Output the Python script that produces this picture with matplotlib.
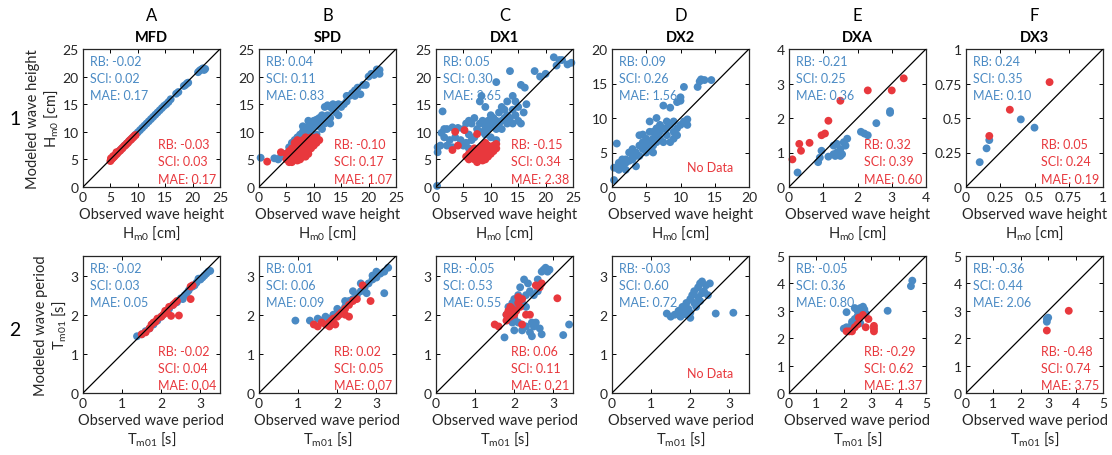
import matplotlib
matplotlib.use("Agg")
import matplotlib.pyplot as plt
import numpy as np

plt.rcParams['font.family'] = ['Lato', 'DejaVu Sans']
plt.rcParams['mathtext.fontset'] = 'custom'
plt.rcParams['mathtext.rm'] = 'Lato'
plt.rcParams['mathtext.it'] = 'Lato:italic'

BLUE = '#4a8ac4'
RED = '#e8383d'

col_letters = ['A', 'B', 'C', 'D', 'E', 'F']
col_titles = ['MFD', 'SPD', 'DX1', 'DX2', 'DXA', 'DX3']

# ---------------- Row 1: Hm0 ----------------
A1_blue = [(5.2,5.1),(5.6,5.5),(6.0,5.9),(6.4,6.3),(6.8,6.7),(7.2,7.1),(7.6,7.5),(8.0,7.9),(8.4,8.3),(8.8,8.7),
           (9.2,9.1),(9.6,9.5),(10.0,9.9),(10.4,10.3),(10.8,10.7),(11.2,11.1),(11.6,11.5),(12.0,11.9),(12.4,12.3),
           (12.8,12.7),(13.2,13.1),(13.6,13.5),(14.0,13.9),(14.4,14.3),(14.8,14.7),(15.2,15.0),(15.6,15.4),(16.0,15.9),
           (17.0,16.9),(17.4,17.2),(18.4,18.3),(18.7,18.5),(19.0,18.8),(19.2,18.9),(21.0,20.8),(21.3,21.1),(21.6,21.3),
           (21.9,21.5),(22.1,21.2),(22.3,21.4)]
A1_red = [(5.0,4.7),(5.2,5.0),(5.4,5.2),(5.6,5.4),(5.8,5.6),(6.0,5.9),(6.2,6.0),(6.4,6.3),(6.6,6.5),(6.8,6.6),
          (7.0,6.9),(7.2,7.0),(7.4,7.3),(7.6,7.5),(7.8,7.6),(8.0,7.9),(8.2,8.0),(8.4,8.3),(8.6,8.5),(8.8,8.6),
          (9.0,8.9),(9.2,9.0),(9.4,9.3),(9.6,9.4),(5.1,5.2),(5.5,5.6),(6.1,6.3)]
B1_blue = [(0.3,5.3),(2.8,5.2),(3.5,5.0),(4.0,5.5),(4.5,6.0),(5.0,5.5),(5.5,6.5),(5.5,7.2),(6.0,7.0),(6.0,8.0),
           (6.5,7.5),(6.5,8.5),(7.0,8.0),(7.0,9.0),(7.5,8.5),(7.5,9.5),(8.0,9.0),(8.0,10.0),(8.5,9.5),(8.5,10.5),
           (9.0,10.0),(9.0,11.0),(9.5,10.5),(9.5,11.5),(10.0,11.0),(10.0,12.0),(10.5,11.5),(10.5,12.2),(11.0,11.0),
           (11.0,12.5),(11.5,12.0),(11.5,13.0),(12.0,12.5),(12.0,14.5),(12.5,13.0),(12.5,14.8),(13.0,12.5),(13.0,14.5),
           (13.5,14.0),(13.5,15.0),(14.0,13.5),(14.0,14.8),(14.5,15.0),(15.0,14.5),(15.5,15.0),(16.0,16.5),(16.5,16.5),
           (17.0,17.0),(17.5,17.5),(17.5,16.5),(18.0,18.0),(18.5,16.8),(19.0,18.5),(19.5,18.5),(20.0,20.0),(20.5,20.5),
           (21.0,20.3),(21.5,21.3),(22.0,21.2),(22.0,20.5),(9.0,12.0),(8.0,11.0),(10.5,9.5),(11.5,10.5),(7.0,7.0),
           (6.0,6.5),(5.0,6.0),(12.0,11.5),(14.5,13.0),(16.0,15.5),(13.0,11.5)]
B1_red = [(1.5,4.6),(4.0,6.3),(5.0,5.0),(5.0,6.0),(5.5,4.5),(5.5,5.5),(5.5,6.5),(6.0,5.0),(6.0,6.0),(6.0,7.0),
          (6.5,5.0),(6.5,6.0),(6.5,7.0),(6.5,8.0),(7.0,5.5),(7.0,6.5),(7.0,7.5),(7.0,8.5),(7.5,5.0),(7.5,6.0),
          (7.5,7.0),(7.5,8.0),(8.0,5.5),(8.0,6.5),(8.0,7.5),(8.0,8.5),(8.5,6.0),(8.5,7.0),(8.5,8.0),(8.5,9.0),
          (9.0,6.5),(9.0,7.5),(9.0,8.5),(9.5,7.0),(9.5,8.0),(9.5,9.0),(10.0,7.5),(10.0,8.5),(10.5,8.0),(10.5,9.0),
          (11.0,8.5),(6.0,4.5),(7.0,4.8),(8.5,5.5),(9.0,6.0)]
C1_blue = [(0.2,0.2),(0.3,6.3),(0.3,7.2),(0.8,7.5),(1.0,9.8),(1.5,9.0),(1.2,13.7),(2.0,10.5),(2.5,8.5),(3.0,10.8),
           (3.5,9.0),(4.0,10.7),(4.5,8.5),(5.0,10.5),(5.5,8.0),(5.5,11.5),(6.0,9.5),(6.0,12.0),(6.5,11.5),(6.5,8.5),
           (7.0,12.5),(7.0,9.0),(7.5,10.5),(7.5,6.5),(8.0,11.5),(8.0,15.5),(8.3,16.5),(8.5,10.0),(8.5,12.0),(9.0,11.0),
           (9.0,14.5),(9.5,10.5),(9.5,12.0),(10.0,11.5),(10.0,9.0),(10.5,11.0),(10.5,12.5),(11.0,19.0),(11.0,10.5),
           (11.0,12.0),(11.5,11.5),(11.5,13.5),(12.0,12.0),(12.0,10.5),(12.5,12.5),(12.5,14.0),(13.0,11.5),(13.0,13.0),
           (13.5,21.0),(13.5,12.5),(14.0,14.0),(14.0,11.5),(14.5,13.0),(14.5,15.5),(15.0,12.0),(15.0,14.5),(15.5,18.5),
           (15.5,11.5),(16.0,13.5),(16.2,18.0),(16.5,15.0),(14.0,16.5),(18.0,21.0),(19.0,20.0),(20.0,20.5),(21.5,23.5),
           (22.0,22.0),(22.5,23.0),(23.0,23.0),(24.0,22.2),(24.7,22.5),(12.0,14.5),(13.0,15.5),(10.0,13.0),(9.0,9.5),
           (11.0,8.5),(6.0,7.0),(5.0,7.5),(3.0,7.2),(2.0,7.5),(1.5,10.5)]
C1_red = [(3.0,6.7),(3.5,10.0),(4.0,7.5),(5.2,10.3),(7.5,9.6),(5.5,5.5),(6.0,6.0),(6.0,5.0),(6.5,6.5),(6.5,5.5),
          (7.0,5.0),(7.0,6.0),(7.0,7.0),(7.5,5.5),(7.5,6.5),(8.0,5.0),(8.0,6.0),(8.0,7.0),(8.5,5.5),(8.5,6.5),
          (8.5,7.5),(9.0,5.0),(9.0,6.0),(9.0,7.0),(9.5,5.5),(9.5,6.5),(9.5,7.5),(10.0,6.0),(10.0,7.0),(10.5,6.5),
          (10.5,7.5),(11.0,7.0),(11.0,7.8),(7.5,4.5),(8.5,4.8),(9.0,8.0)]
D1_blue = [(0.3,1.0),(0.3,2.8),(0.8,2.7),(0.7,6.3),(1.0,3.0),(1.0,3.5),(1.5,3.0),(1.5,4.0),(2.0,3.5),(2.0,4.0),
           (2.5,3.8),(2.5,5.0),(3.0,4.0),(3.0,4.5),(3.0,5.5),(3.5,5.0),(3.5,4.5),(4.0,4.5),(4.0,6.0),(4.0,7.5),
           (4.5,5.5),(4.5,6.5),(4.5,7.6),(5.0,5.0),(5.0,6.0),(5.0,7.0),(5.5,5.5),(5.5,6.5),(5.5,8.0),(5.5,9.5),
           (6.0,6.0),(6.0,7.0),(6.0,8.0),(6.5,6.5),(6.5,7.5),(6.5,8.5),(6.5,10.0),(7.0,7.0),(7.0,8.0),(7.0,9.0),
           (7.5,8.5),(7.5,6.5),(7.5,11.8),(8.0,7.5),(8.0,9.5),(8.0,8.5),(8.5,6.5),(8.5,11.5),(8.5,9.0),(9.0,8.0),
           (9.0,9.5),(9.5,8.5),(9.5,12.3),(9.5,7.5),(10.0,9.0),(10.0,12.5),(10.0,13.0),(10.5,9.5),(10.5,14.5),
           (11.0,9.0),(11.0,9.8),(12.5,14.5),(12.8,15.3),(13.0,15.6),(13.5,15.5),(14.5,15.5),(3.5,3.0),(6.0,5.0),
           (2.0,2.5),(1.0,2.5),(9.0,7.0)]
D1_red = []
E1_blue = [(0.25,0.42),(0.85,0.72),(0.9,0.85),(0.95,1.05),(1.15,0.88),(1.3,1.2),(1.3,0.95),(1.4,1.0),(1.4,1.25),
           (1.5,1.1),(1.55,0.95),(1.6,1.3),(1.65,1.2),(1.7,1.4),(1.5,0.9),(1.35,0.9),(2.1,1.6),(2.2,1.55),(2.3,1.5),
           (2.55,1.85),(2.95,2.15),(2.95,2.2)]
E1_red = [(0.1,0.8),(0.3,1.25),(0.35,1.05),(0.6,1.28),(0.95,1.5),(1.05,1.55),(1.15,1.92),(1.5,2.5),(2.3,2.8),
          (3.0,2.8),(3.35,3.15)]
F1_blue = [(0.1,0.18),(0.15,0.28),(0.17,0.34),(0.4,0.49),(0.5,0.43)]
F1_red = [(0.17,0.37),(0.32,0.56),(0.61,0.76)]

# ---------------- Row 2: Tm01 ----------------
A2_blue = [(1.38,1.45),(1.5,1.5),(1.6,1.58),(1.7,1.65),(1.8,1.75),(1.9,1.85),(2.0,1.95),(2.1,2.05),(2.2,2.15),
           (2.3,2.25),(2.4,2.32),(2.5,2.42),(2.6,2.5),(2.7,2.62),(2.8,2.72),(2.9,2.82),(3.0,2.9),(3.1,3.0),
           (3.15,3.05),(3.2,3.1),(3.25,3.12),(2.55,2.4),(2.65,2.55),(2.85,2.75),(3.05,2.95),(2.95,2.92),(2.75,2.7)]
A2_red = [(1.5,1.5),(1.6,1.55),(1.7,1.65),(1.75,1.75),(1.8,1.8),(1.85,1.82),(1.9,1.9),(2.0,1.95),(2.05,2.0),
          (2.1,2.1),(2.2,2.2),(2.3,2.25),(2.35,2.3),(2.4,2.35),(2.25,1.97),(2.45,1.98),(2.75,2.4),(2.75,2.72),
          (2.8,2.75),(2.15,2.05)]
B2_blue = [(0.93,1.85),(1.3,1.85),(1.5,1.9),(1.6,1.85),(1.7,1.95),(1.8,1.9),(1.9,2.0),(2.0,2.05),(2.1,2.1),
           (2.2,2.2),(2.3,2.35),(2.4,2.4),(2.5,2.5),(2.6,2.6),(2.7,2.7),(2.8,2.8),(2.9,2.9),(3.0,2.95),(3.1,3.05),
           (3.2,3.1),(3.3,3.2),(2.75,2.55),(3.2,2.55),(2.4,2.6),(2.6,2.8),(2.9,3.0),(3.0,3.1),(2.2,2.35),(2.0,2.15)]
B2_red = [(1.4,1.75),(1.5,1.7),(1.6,1.8),(1.7,1.75),(1.8,1.8),(1.85,1.85),(1.9,1.9),(2.0,1.95),(2.05,2.0),
          (2.1,2.05),(2.2,2.15),(2.3,2.25),(2.4,2.35),(2.5,2.4),(2.3,1.95),(2.65,2.75),(2.85,2.35),(2.2,2.0),
          (1.8,1.7),(1.95,1.75)]
C2_blue = [(1.75,1.42),(1.8,2.0),(1.85,2.2),(1.9,2.1),(1.95,2.3),(2.0,2.4),(2.0,1.6),(2.05,2.2),(2.1,2.5),
           (2.1,1.8),(2.15,2.7),(2.2,2.3),(2.2,1.6),(2.25,2.9),(2.3,2.5),(2.3,2.2),(2.35,2.8),(2.4,2.6),(2.4,1.55),
           (2.45,1.45),(2.5,2.5),(2.5,1.7),(2.55,1.8),(2.6,2.9),(2.6,2.6),(2.7,3.1),(2.75,3.15),(2.8,3.2),(2.85,3.1),
           (2.9,3.15),(2.7,1.5),(2.65,1.65),(3.25,1.48),(3.4,1.75),(2.0,1.9),(1.95,1.8),(2.3,1.7),(2.45,1.8)]
C2_red = [(1.5,1.75),(1.6,1.7),(1.8,1.85),(1.8,2.0),(1.85,2.1),(1.9,1.95),(1.95,2.15),(2.0,2.0),(2.05,2.1),
          (2.1,2.3),(2.1,2.45),(2.15,2.2),(2.2,1.75),(2.3,2.0),(2.4,2.0),(2.55,2.75),(2.65,2.7),(2.7,2.8),
          (3.1,2.42),(1.9,2.2),(2.2,2.4)]
D2_blue = [(1.4,2.03),(1.5,1.95),(1.6,2.0),(1.7,2.1),(1.75,1.95),(1.8,2.2),(1.85,2.05),(1.9,2.3),(1.95,2.15),
           (2.0,2.4),(2.0,1.92),(2.05,2.5),(2.1,2.3),(2.1,2.6),(2.15,2.2),(2.2,2.7),(2.2,2.45),(2.25,2.8),(2.3,2.55),
           (2.3,2.85),(2.35,2.6),(2.4,2.75),(2.45,2.5),(2.5,2.8),(2.0,2.05),(2.65,2.03),(3.1,2.05),(2.25,2.35),
           (1.9,2.0)]
D2_red = []
E2_blue = [(2.0,2.35),(2.1,2.95),(2.1,2.4),(2.3,2.5),(2.4,3.1),(2.5,2.8),(2.5,3.0),(2.6,3.1),(2.7,3.15),
           (2.75,3.05),(2.4,2.7),(2.2,2.35),(2.6,2.55),(3.6,3.0),(4.45,3.9),(4.5,4.1),(2.3,2.6),(2.8,2.9)]
E2_red = [(2.1,2.25),(2.2,2.25),(2.3,2.25),(2.4,2.4),(2.55,2.75),(2.7,2.85),(2.8,2.4),(2.9,2.7),(3.1,2.35),
          (3.1,2.45),(3.1,2.25),(2.5,2.5)]
F2_blue = [(2.95,2.6),(2.95,2.7),(3.0,2.75)]
F2_red = [(2.95,2.28),(3.75,3.0)]

# statistics text
stats_blue_1 = [('-0.02','0.02','0.17'),('0.04','0.11','0.83'),('0.05','0.30','2.65'),
                ('0.09','0.26','1.56'),('-0.21','0.25','0.36'),('0.24','0.35','0.10')]
stats_red_1 = [('-0.03','0.03','0.17'),('-0.10','0.17','1.07'),('-0.15','0.34','2.38'),
               None,('0.32','0.39','0.60'),('0.05','0.24','0.19')]
stats_blue_2 = [('-0.02','0.03','0.05'),('0.01','0.06','0.09'),('-0.05','0.53','0.55'),
                ('-0.03','0.60','0.72'),('-0.05','0.36','0.80'),('-0.36','0.44','2.06')]
stats_red_2 = [('-0.02','0.04','0.04'),('0.02','0.05','0.07'),('0.06','0.11','0.21'),
               None,('-0.29','0.62','1.37'),('-0.48','0.74','3.75')]

lims_1 = [25, 25, 25, 20, 4, 1]
ticks_1 = [[0,5,10,15,20,25]]*3 + [[0,5,10,15,20],[0,1,2,3,4],[0,0.25,0.5,0.75,1]]
ticklabels_1 = [['0','5','10','15','20','25']]*3 + [['0','5','10','15','20'],['0','1','2','3','4'],
                                                    ['0','0.25','0.5','0.75','1']]
lims_2 = [3.5, 3.5, 3.5, 3.5, 5, 5]
ticks_2 = [[0,1,2,3]]*4 + [[0,1,2,3,4,5]]*2
ticklabels_2 = [['0','1','2','3']]*4 + [['0','1','2','3','4','5']]*2

row1_blue = [A1_blue, B1_blue, C1_blue, D1_blue, E1_blue, F1_blue]
row1_red = [A1_red, B1_red, C1_red, D1_red, E1_red, F1_red]
row2_blue = [A2_blue, B2_blue, C2_blue, D2_blue, E2_blue, F2_blue]
row2_red = [A2_red, B2_red, C2_red, D2_red, E2_red, F2_red]

W, H = 1112, 456
fig = plt.figure(figsize=(W/100, H/100), dpi=100)
lefts = [83, 259, 436, 612, 789, 966]
aw = 137
rows = [(50, 188), (257, 394)]

TXT = '#262626'
FS_STAT = 9
FS_TICK = 10
FS_LAB = 10.5

def draw_panel(ax, blue, red, lim, ticks, tlabels, sb, sr):
    ax.set_xlim(0, lim); ax.set_ylim(0, lim)
    ax.plot([0, lim], [0, lim], color='black', lw=0.9, zorder=3)
    if blue:
        b = np.array(blue)
        ax.scatter(b[:, 0], b[:, 1], s=32, color=BLUE, edgecolors='none', zorder=2, clip_on=False)
    if red:
        r = np.array(red)
        ax.scatter(r[:, 0], r[:, 1], s=32, color=RED, edgecolors='none', zorder=2.5, clip_on=False)
    ax.set_xticks(ticks); ax.set_yticks(ticks)
    ax.set_xticklabels(tlabels); ax.set_yticklabels(tlabels)
    ax.tick_params(direction='in', length=3, width=0.7, top=True, right=True,
                   labelsize=FS_TICK, labelcolor=TXT, pad=3)
    for sp in ax.spines.values():
        sp.set_linewidth(0.9); sp.set_color('#262626')
    for i, (lab, v) in enumerate(zip(['RB: ', 'SCI: ', 'MAE: '], sb)):
        ax.text(0.05, 0.91 - 0.122*i, lab + v, transform=ax.transAxes, color=BLUE,
                fontsize=FS_STAT, va='center', ha='left')
    if sr is None:
        ax.text(0.55, 0.145, 'No Data', transform=ax.transAxes, color=RED,
                fontsize=FS_STAT, va='center', ha='left')
    else:
        for i, (lab, v) in enumerate(zip(['RB: ', 'SCI: ', 'MAE: '], sr)):
            ax.text(0.55, 0.31 - 0.125*i, lab + v, transform=ax.transAxes, color=RED,
                    fontsize=FS_STAT, va='center', ha='left')

for r, (top, bot) in enumerate(rows):
    for c in range(6):
        ax = fig.add_axes([lefts[c]/W, 1 - bot/H, aw/W, (bot - top)/H])
        if r == 0:
            draw_panel(ax, row1_blue[c], row1_red[c], lims_1[c], ticks_1[c], ticklabels_1[c],
                       stats_blue_1[c], stats_red_1[c])
            ax.set_xlabel('Observed wave height\n$\\mathregular{H_{m0}}$ [cm]', fontsize=FS_LAB,
                          color=TXT, labelpad=3, linespacing=1.15)
            ax.set_title(col_titles[c], fontsize=FS_LAB, fontweight='bold', pad=6)
            if c == 0:
                ax.set_ylabel('Modeled wave height\n$\\mathregular{H_{m0}}$ [cm]', fontsize=FS_LAB,
                              color=TXT, labelpad=2, linespacing=1.15)
        else:
            draw_panel(ax, row2_blue[c], row2_red[c], lims_2[c], ticks_2[c], ticklabels_2[c],
                       stats_blue_2[c], stats_red_2[c])
            ax.set_xlabel('Observed wave period\n$\\mathregular{T_{m01}}$ [s]', fontsize=FS_LAB,
                          color=TXT, labelpad=3, linespacing=1.15)
            if c == 0:
                ax.set_ylabel('Modeled wave period\n$\\mathregular{T_{m01}}$ [s]', fontsize=FS_LAB,
                              color=TXT, labelpad=2, linespacing=1.15)

for c in range(6):
    fig.text((lefts[c] + aw/2)/W, 1 - 16/H, col_letters[c], fontsize=12, ha='center', va='center')
fig.text(15/W, 1 - 120/H, '1', fontsize=14, ha='center', va='center')
fig.text(15/W, 1 - 330/H, '2', fontsize=14, ha='center', va='center')

fig.savefig('out.png', dpi=100, facecolor='white')
